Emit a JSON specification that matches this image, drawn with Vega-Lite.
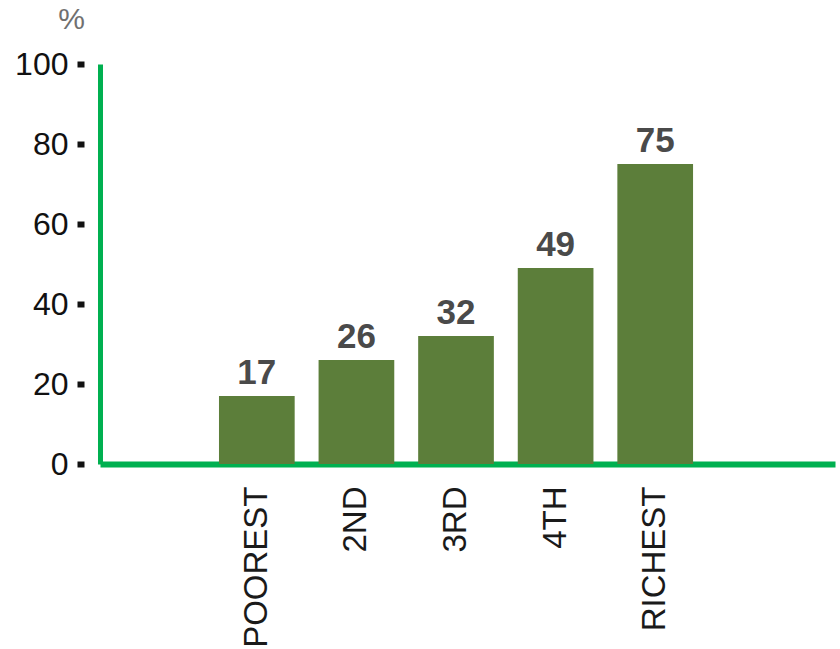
{
  "$schema": "https://vega.github.io/schema/vega-lite/v6.json",
  "width": 735,
  "height": 400,
  "autosize": {"type": "none"},
  "padding": {"left": 100, "top": 64, "right": 5, "bottom": 185},
  "background": "white",
  "config": {"view": {"stroke": null}, "font": "Liberation Sans"},
  "data": {
    "values": [
      {"group": "POOREST", "pct": 17},
      {"group": "2ND", "pct": 26},
      {"group": "3RD", "pct": 32},
      {"group": "4TH", "pct": 49},
      {"group": "RICHEST", "pct": 75}
    ]
  },
  "encoding": {
    "x": {
      "field": "group",
      "type": "nominal",
      "sort": null,
      "scale": {
        "domain": ["_a", "POOREST", "2ND", "3RD", "4TH", "RICHEST", "_b"],
        "paddingInner": 0.24,
        "paddingOuter": 0.31,
        "align": 0.314
      },
      "axis": {
        "title": null,
        "labelExpr": "indexof(datum.label, '_') === 0 ? '' : datum.label",
        "labelAngle": -90,
        "labelAlign": "right",
        "labelBaseline": "middle",
        "labelFontSize": 33,
        "labelColor": "#1a1a1a",
        "labelPadding": 22,
        "ticks": false,
        "domainColor": "#00b050",
        "domainWidth": 6
      }
    },
    "y": {
      "field": "pct",
      "type": "quantitative",
      "scale": {"domain": [0, 100]},
      "axis": {
        "values": [0, 20, 40, 60, 80, 100],
        "grid": false,
        "title": "%",
        "titleAngle": 0,
        "titleX": -29,
        "titleY": -45,
        "titleAlign": "center",
        "titleBaseline": "middle",
        "titleFontSize": 30,
        "titleFontWeight": "normal",
        "titleColor": "#707070",
        "labelFontSize": 32,
        "labelColor": "#111111",
        "labelPadding": 8,
        "tickSize": 24,
        "tickWidth": 6,
        "tickColor": "#111111",
        "tickDash": [0, 16, 7, 100],
        "domainColor": "#00b050",
        "domainWidth": 5
      }
    }
  },
  "layer": [
    {"mark": {"type": "bar", "color": "#5c7e3a"}},
    {
      "mark": {"type": "text", "baseline": "alphabetic", "dy": -12, "fontSize": 35, "fontWeight": "bold", "color": "#4a4a4a"},
      "encoding": {"text": {"field": "pct", "type": "quantitative"}}
    }
  ]
}
